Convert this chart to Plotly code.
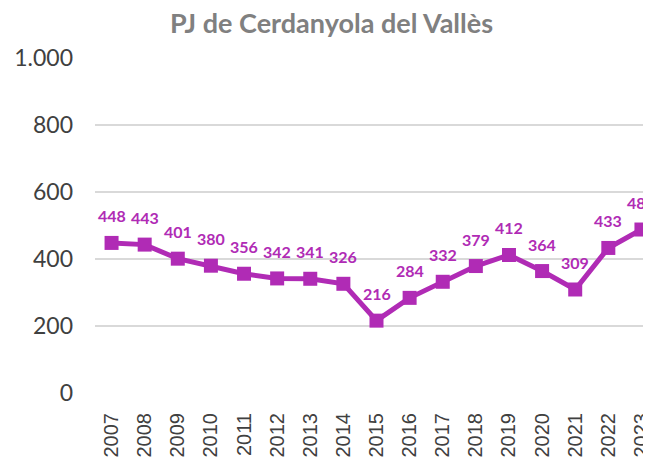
import plotly.graph_objects as go

years = [str(y) for y in range(2007, 2024)]
values = [448, 443, 401, 380, 356, 342, 341, 326, 216, 284, 332, 379, 412, 364, 309, 433, 488]
y_ticks = [0, 200, 400, 600, 800, 1000]
y_tick_labels = ["0", "200", "400", "600", "800", "1.000"]

purple = "#B02BB5"
xpos = list(range(len(years)))

fig = go.Figure()
fig.add_trace(go.Scatter(
    x=xpos, y=values, mode="lines+markers",
    line=dict(color=purple, width=5),
    marker=dict(symbol="square", size=14, color=purple),
    cliponaxis=False,
    hoverinfo="skip",
))

for x, v in zip(xpos, values):
    fig.add_annotation(
        x=x, y=v, xref="x", yref="y", text=f"<b>{v}</b>", showarrow=False, yshift=27,
        font=dict(family="Lato", size=16, color=purple),
    )

fig.update_layout(
    width=651, height=457,
    margin=dict(l=87, r=1, t=50, b=72, autoexpand=False),
    paper_bgcolor="white", plot_bgcolor="white",
    showlegend=False,
    title=dict(
        text="<b>PJ de Cerdanyola del Vallès</b>",
        x=0.497, xanchor="center", y=0.965, yanchor="middle",
        font=dict(family="Lato", size=27, color="#808080"),
    ),
)
fig.update_xaxes(
    range=[-0.5, 16.5], tickvals=xpos, ticktext=years,
    showgrid=False, showline=False, zeroline=False, automargin=False,
    tickangle=-90, ticks="",
    tickfont=dict(family="Liberation Sans", size=20, color="#404040"),
    ticklabelstandoff=15,
)
fig.update_yaxes(
    range=[0, 1000], tickvals=y_ticks, ticktext=y_tick_labels,
    showgrid=True, gridcolor="#D9D9D9", gridwidth=1.5,
    zeroline=False, showline=False, ticks="", automargin=False,
    tickfont=dict(family="Lato", size=23, color="#404040"),
    ticklabelstandoff=21,
)

fig.write_html("out.html")
